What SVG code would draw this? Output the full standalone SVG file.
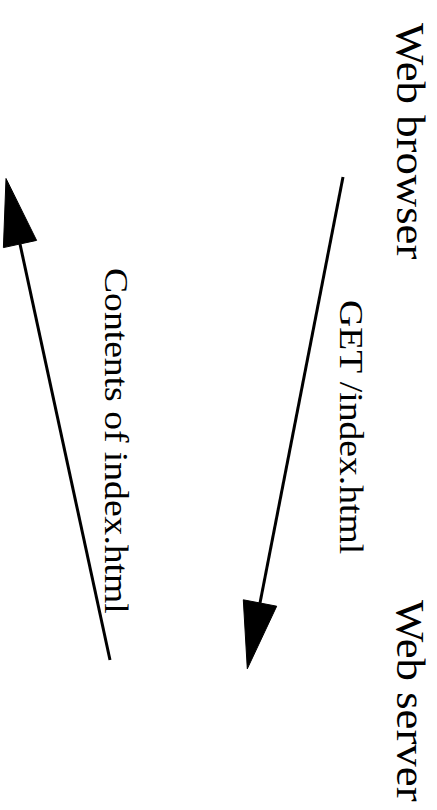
<svg xmlns="http://www.w3.org/2000/svg" width="437" height="810" viewBox="0 0 437 810">
<style>
.node{font-family:"Liberation Serif","Times New Roman",serif;font-size:40px;fill:#000}
.elab{font-family:"Liberation Serif","Times New Roman",serif;font-size:33px;fill:#000}
.edge{stroke:#000;stroke-width:3;fill:none}
.head{fill:#000;stroke:#000;stroke-width:1}
</style>
<rect width="437" height="810" fill="#fff"/>
<g id="browser"><text class="node" font-family="Liberation Serif, serif" transform="translate(397,23) rotate(90) scale(1.12,1)">Web browser</text></g>
<g id="server"><text class="node" font-family="Liberation Serif, serif" transform="translate(397,600) rotate(90) scale(1.12,1)">Web server</text></g>
<g id="connectors">
<g id="e1">
<path class="edge" d="M343,177 L260,603"/>
<polygon class="head" points="276.7,606.2 243.3,599.8 247.3,668.8"/>
<text class="elab" font-family="Liberation Serif, serif" transform="translate(340,300) rotate(90) scale(1.14,1)">GET /index.html</text>
</g>
<g id="e2">
<path class="edge" d="M110,660 L20,244"/>
<polygon class="head" points="36.6,240.4 3.4,247.6 6,178.5"/>
<text class="elab" font-family="Liberation Serif, serif" transform="translate(105,268) rotate(90) scale(1.14,1)">Contents of index.html</text>
</g>
</g>
</svg>
